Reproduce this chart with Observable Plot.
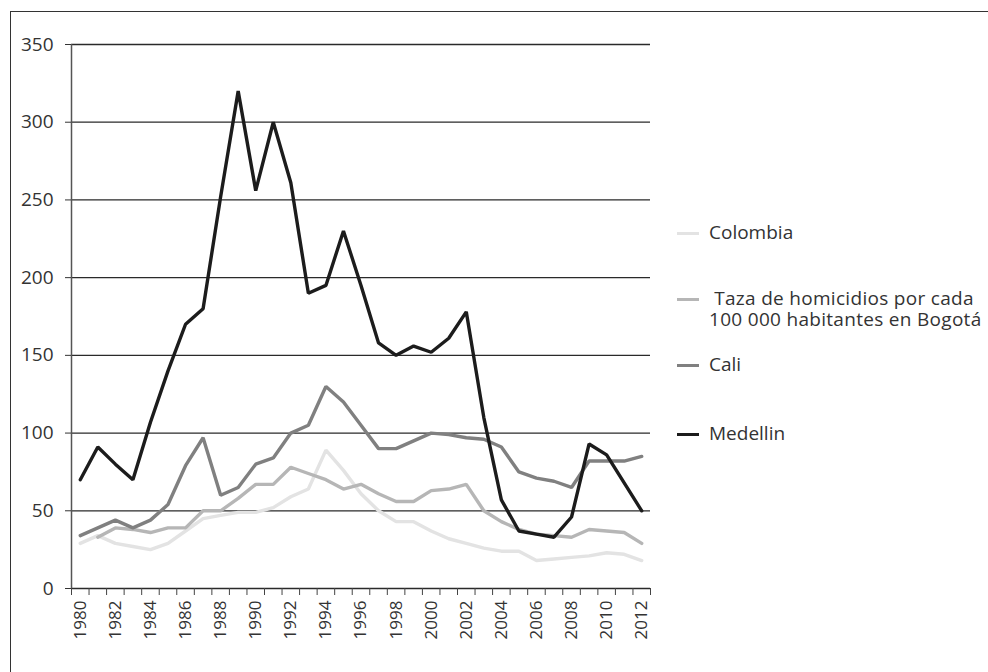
<!DOCTYPE html>
<html>
<head>
<meta charset="utf-8">
<script src="https://cdn.jsdelivr.net/npm/d3@7"></script>
<script src="https://cdn.jsdelivr.net/npm/@observablehq/plot@0.6"></script>
<style>
  html, body { margin: 0; padding: 0; background: #fff; overflow: hidden; }
  #wrap { position: relative; width: 988px; height: 672px; overflow: hidden; font-family: "Open Sans", sans-serif; }
  #frame { position: absolute; left: 10px; top: 11px; width: 1000px; height: 700px; border: 1.5px solid #333; box-sizing: border-box; }
  #chart { position: absolute; left: 0; top: 0; }
  .leg { position: absolute; left: 677px; font-size: 19px; color: #333; white-space: nowrap; line-height: 21px; }
  .leg .sw { position: absolute; left: 0; width: 22px; height: 3px; }
  .leg .tx { position: absolute; left: 32px; top: -1px; white-space: pre; }
</style>
</head>
<body>
<div id="wrap">
  <div id="frame"></div>
  <div id="chart"></div>
</div>
<script>
const years = d3.range(1980, 2013);
const colombia = [29, 34, 29, 27, 25, 29, 37, 45, 47, 49, 49, 52, 59, 64, 89, 76, 61, 50, 43, 43, 37, 32, 29, 26, 24, 24, 18, 19, 20, 21, 23, 22, 18];
const bogota   = [null, 33, 39, 38, 36, 39, 39, 50, 50, 58, 67, 67, 78, 74, 70, 64, 67, 61, 56, 56, 63, 64, 67, 50, 43, 38, 35, 34, 33, 38, 37, 36, 29];
const cali     = [34, 39, 44, 39, 44, 54, 79, 97, 60, 65, 80, 84, 100, 105, 130, 120, 105, 90, 90, 95, 100, 99, 97, 96, 91, 75, 71, 69, 65, 82, 82, 82, 85];
const medellin = [70, 91, 80, 70, 107, 140, 170, 180, 252, 320, 256, 300, 261, 190, 195, 230, 195, 158, 150, 156, 152, 161, 178, 110, 57, 37, 35, 33, 46, 93, 86, 68, 50];
const seriesNames = ["Colombia", " Taza de homicidios por cada\n100 000 habitantes en Bogotá", "Cali", "Medellin"];
const seriesColors = ["#e3e3e3", "#b6b6b6", "#808080", "#1c1c1c"];
const yTicks = [0, 50, 100, 150, 200, 250, 300, 350];
const xLabelYears = years.filter(y => y % 2 === 0);

const seriesValues = [colombia, bogota, cali, medellin];
const rows = [];
seriesValues.forEach((vals, s) => {
  vals.forEach((v, i) => rows.push({series: s, year: years[i], value: v}));
});
const boundaries = d3.range(1979.5, 2013, 1);

const chart = Plot.plot({
  width: 988,
  height: 672,
  marginLeft: 71,
  marginRight: 338,
  marginTop: 44,
  marginBottom: 84,
  style: {fontFamily: "'Open Sans', sans-serif", fontSize: "19px", color: "#333", background: "transparent"},
  x: {type: "linear", domain: [1979.5, 2012.5]},
  y: {domain: [0, 350]},
  marks: [
    Plot.ruleY(yTicks, {stroke: "#2a2a2a", strokeWidth: 1.3}),
    Plot.ruleX([1979.5], {y1: 0, y2: 350, stroke: "#555", strokeWidth: 1.5}),
    Plot.axisY({ticks: yTicks, tickSize: 6, tickPadding: 12, stroke: "#333", fontSize: 19, label: null}),
    Plot.axisX({ticks: boundaries, tickSize: 7, tickFormat: () => "", stroke: "#444", label: null}),
    Plot.axisX({ticks: xLabelYears, tickSize: 0, tickPadding: 12, tickRotate: -90, tickFormat: d => String(d), fontSize: 17, label: null}),
    ...seriesValues.map((_, s) =>
      Plot.line(rows.filter(r => r.series === s && r.value != null), {
        x: "year", y: "value", stroke: seriesColors[s], strokeWidth: 3.4, strokeLinejoin: "miter"
      })
    )
  ]
});
document.getElementById("chart").appendChild(chart);

// legend
const legendTops = [233, 299, 365, 434];
const wrap = document.getElementById("wrap");
seriesNames.forEach((name, i) => {
  const div = document.createElement("div");
  div.className = "leg";
  div.style.top = (legendTops[i] - 10) + "px";
  const sw = document.createElement("div");
  sw.className = "sw";
  sw.style.background = seriesColors[i];
  sw.style.top = "9px";
  div.appendChild(sw);
  const t = document.createElement("div");
  t.className = "tx";
  t.textContent = name;
  if (name.includes("\n")) t.style.letterSpacing = "0.3px";
  div.appendChild(t);
  wrap.appendChild(div);
});
</script>
</body>
</html>
